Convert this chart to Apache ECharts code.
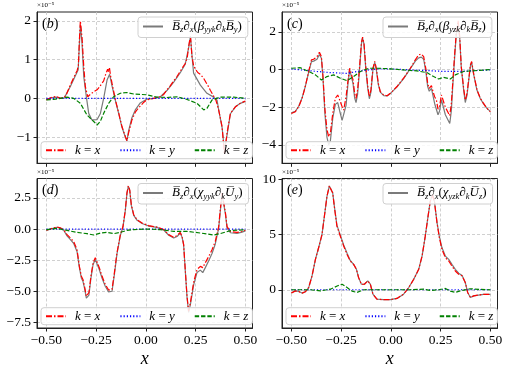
<!DOCTYPE html>
<html>
<head>
<meta charset="utf-8">
<script src="https://cdn.jsdelivr.net/npm/echarts@6/dist/echarts.min.js"></script>
<style>
  html, body { margin: 0; padding: 0; background: #fff; }
  #main { width: 507px; height: 369px; }
</style>
</head>
<body>
<div id="main"></div>
<script>
// ---- data (values are in units of 1e-5), [x, value] ----
var xTicks = [-0.5, -0.25, 0, 0.25, 0.5];
var yTicksB = [-1, 0, 1, 2];
var yTicksC = [-4, -2, 0, 2];
var yTicksD = [-7.5, -5, -2.5, 0, 2.5];
var yTicksE = [0, 5, 10];

// (b)
var bTotal = [[-0.5,-0.03],[-0.47,0.02],[-0.45,0.03],[-0.43,0],[-0.41,0.01],[-0.4,0.06],[-0.38,0.3],[-0.36,0.52],[-0.34,0.74],[-0.334,1.4],[-0.329,1.9],[-0.321,1.45],[-0.312,0.56],[-0.299,0.04],[-0.287,-0.39],[-0.271,-0.56],[-0.245,-0.55],[-0.229,-0.4],[-0.212,0],[-0.195,0.47],[-0.182,0.62],[-0.17,0.32],[-0.153,-0.06],[-0.136,-0.4],[-0.12,-0.75],[-0.103,-1.0],[-0.095,-1.1],[-0.087,-0.85],[-0.07,-0.5],[-0.053,-0.3],[-0.028,-0.12],[0.006,-0.02],[0.039,0],[0.073,0.04],[0.106,0.2],[0.14,0.42],[0.173,0.66],[0.198,0.88],[0.215,1.3],[0.224,1.6],[0.232,1.1],[0.24,0.65],[0.274,0.34],[0.307,0.13],[0.341,0.03],[0.358,-0.05],[0.366,-0.3],[0.383,-0.75],[0.395,-1.35],[0.408,-0.95],[0.425,-0.4],[0.45,-0.22],[0.475,-0.13],[0.5,-0.08]];
var bKx = [[-0.5,-0.04],[-0.47,0.03],[-0.45,0.05],[-0.43,0],[-0.41,0.02],[-0.4,0.09],[-0.38,0.34],[-0.36,0.56],[-0.345,0.72],[-0.339,0.85],[-0.334,1.5],[-0.329,2.0],[-0.321,1.59],[-0.312,0.82],[-0.304,0.3],[-0.292,0.04],[-0.279,0.1],[-0.262,0.17],[-0.245,0.22],[-0.235,0.28],[-0.229,0.32],[-0.212,0.45],[-0.203,0.6],[-0.198,0.55],[-0.192,0.75],[-0.187,0.68],[-0.183,0.8],[-0.178,0.6],[-0.17,0.39],[-0.153,-0.04],[-0.136,-0.39],[-0.12,-0.73],[-0.103,-0.99],[-0.095,-1.1],[-0.087,-0.9],[-0.07,-0.56],[-0.053,-0.36],[-0.04,-0.27],[-0.028,-0.2],[-0.01,-0.1],[0.006,-0.04],[0.039,0],[0.073,0.04],[0.09,0.1],[0.106,0.22],[0.12,0.3],[0.14,0.45],[0.155,0.55],[0.173,0.7],[0.185,0.8],[0.198,0.9],[0.208,1.05],[0.215,1.33],[0.224,1.62],[0.232,1.07],[0.24,0.85],[0.249,0.75],[0.262,0.66],[0.274,0.62],[0.29,0.52],[0.299,0.47],[0.315,0.3],[0.324,0.21],[0.34,0.06],[0.349,0],[0.358,-0.15],[0.366,-0.3],[0.383,-0.73],[0.395,-1.45],[0.408,-0.9],[0.425,-0.39],[0.45,-0.22],[0.475,-0.13],[0.5,-0.07]];
var bKy = [[-0.5,0],[-0.4,0],[-0.3,0],[-0.2,0],[-0.1,0],[0,0],[0.1,0],[0.2,0],[0.3,0],[0.4,0],[0.5,0]];
var bKz = [[-0.5,-0.04],[-0.463,-0.03],[-0.396,0.03],[-0.363,0],[-0.329,-0.13],[-0.296,-0.43],[-0.262,-0.6],[-0.245,-0.69],[-0.229,-0.6],[-0.212,-0.39],[-0.187,-0.13],[-0.162,0.04],[-0.128,0.13],[-0.095,0.15],[-0.061,0.11],[0.006,0.09],[0.056,0.03],[0.106,0.02],[0.157,0.04],[0.207,-0.03],[0.257,-0.13],[0.291,-0.3],[0.307,-0.26],[0.333,-0.04],[0.374,0.03],[0.441,0.03],[0.5,0]];

// (c)
var cTotal = [[-0.5,-2.3],[-0.48,-2.22],[-0.463,-1.95],[-0.446,-1.5],[-0.43,-0.9],[-0.413,-0.15],[-0.399,0.42],[-0.388,0.45],[-0.379,0.4],[-0.371,0.55],[-0.359,0.8],[-0.349,0.6],[-0.341,-0.5],[-0.331,-2.4],[-0.321,-3.6],[-0.312,-4.0],[-0.304,-3.8],[-0.292,-2.6],[-0.279,-1.85],[-0.267,-1.75],[-0.257,-2.2],[-0.245,-2.7],[-0.237,-2.75],[-0.225,-1.9],[-0.215,-0.7],[-0.207,0],[-0.198,-0.05],[-0.19,-0.75],[-0.182,-1.5],[-0.175,-1.75],[-0.167,-1.3],[-0.157,0.05],[-0.148,1.35],[-0.142,1.68],[-0.135,1.35],[-0.126,0.05],[-0.116,-1.0],[-0.108,-1.55],[-0.1,-1.2],[-0.09,0],[-0.081,0.38],[-0.073,0],[-0.063,-0.8],[-0.053,-1.2],[-0.036,-1.38],[-0.019,-1.4],[-0.003,-1.28],[0.031,-0.92],[0.064,-0.48],[0.098,0.05],[0.123,0.45],[0.14,0.62],[0.153,0.66],[0.165,0.55],[0.177,-0.2],[0.185,-0.9],[0.193,-1.15],[0.204,-1.0],[0.212,-1.4],[0.22,-1.8],[0.229,-1.9],[0.237,-2.4],[0.245,-2.2],[0.254,-1.6],[0.262,-1.7],[0.274,-2.4],[0.284,-2.5],[0.296,-2.86],[0.304,-2.2],[0.311,-0.9],[0.321,0.7],[0.329,1.9],[0.338,2.4],[0.346,1.7],[0.354,0.1],[0.366,-1.1],[0.374,-1.75],[0.383,-1.35],[0.391,-0.6],[0.4,0.2],[0.406,0.38],[0.416,-0.25],[0.433,-1.1],[0.45,-1.55],[0.466,-1.82],[0.483,-2.06],[0.5,-2.22]];
var cKx = [[-0.5,-2.33],[-0.48,-2.24],[-0.463,-1.97],[-0.446,-1.53],[-0.43,-0.9],[-0.413,-0.1],[-0.399,0.52],[-0.388,0.55],[-0.379,0.5],[-0.371,0.69],[-0.359,0.92],[-0.349,0.69],[-0.341,-0.37],[-0.331,-2.15],[-0.321,-3.2],[-0.312,-3.57],[-0.304,-3.4],[-0.292,-2.33],[-0.279,-1.53],[-0.267,-1.35],[-0.257,-1.62],[-0.245,-1.97],[-0.237,-2.15],[-0.225,-1.44],[-0.215,-0.55],[-0.207,0.07],[-0.198,0.07],[-0.19,-0.55],[-0.182,-1.26],[-0.175,-1.53],[-0.167,-1.08],[-0.157,0.16],[-0.148,1.4],[-0.142,1.72],[-0.135,1.4],[-0.126,0.16],[-0.116,-0.9],[-0.108,-1.44],[-0.1,-1.08],[-0.09,0.07],[-0.081,0.43],[-0.073,0.07],[-0.063,-0.73],[-0.053,-1.17],[-0.036,-1.35],[-0.019,-1.39],[-0.003,-1.26],[0.031,-0.9],[0.064,-0.46],[0.098,0.07],[0.123,0.52],[0.14,0.78],[0.153,0.83],[0.165,0.69],[0.177,-0.02],[0.185,-0.73],[0.193,-1.0],[0.204,-0.85],[0.212,-1.17],[0.22,-1.44],[0.229,-1.62],[0.237,-2.1],[0.245,-1.95],[0.254,-1.35],[0.262,-1.4],[0.274,-2.0],[0.284,-2.1],[0.296,-2.45],[0.304,-1.8],[0.311,-0.73],[0.321,0.87],[0.329,1.94],[0.338,2.6],[0.346,1.76],[0.354,0.16],[0.366,-1.0],[0.374,-1.62],[0.383,-1.26],[0.391,-0.55],[0.4,0.25],[0.406,0.43],[0.416,-0.2],[0.433,-1.08],[0.45,-1.53],[0.466,-1.8],[0.483,-2.06],[0.5,-2.24]];
var cKy = [[-0.5,0.03],[-0.438,-0.03],[-0.371,-0.1],[-0.304,-0.16],[-0.22,-0.2],[-0.153,-0.07],[-0.069,0.03],[0.014,0.03],[0.098,-0.02],[0.181,-0.05],[0.265,-0.1],[0.349,-0.1],[0.433,-0.05],[0.5,-0.02]];
var cKz = [[-0.5,0.07],[-0.455,0.1],[-0.413,-0.1],[-0.379,-0.28],[-0.349,-0.55],[-0.321,-0.37],[-0.287,-0.28],[-0.254,-0.46],[-0.22,-0.59],[-0.187,-0.37],[-0.153,-0.1],[-0.111,0.07],[-0.069,0.07],[-0.003,0.04],[0.064,-0.02],[0.131,-0.07],[0.181,-0.16],[0.215,-0.37],[0.24,-0.5],[0.265,-0.41],[0.299,-0.5],[0.324,-0.28],[0.366,-0.1],[0.433,-0.05],[0.5,0]];

// (d)
var dTotal = [[-0.5,-0.12],[-0.48,-0.02],[-0.463,0.08],[-0.446,0.14],[-0.43,0.07],[-0.413,-0.1],[-0.396,-0.55],[-0.379,-0.85],[-0.363,-1.15],[-0.346,-1.8],[-0.334,-3.1],[-0.324,-3.95],[-0.316,-4.2],[-0.307,-4.85],[-0.299,-5.55],[-0.292,-5.7],[-0.286,-5.3],[-0.276,-3.95],[-0.265,-2.85],[-0.254,-2.45],[-0.245,-2.6],[-0.234,-3.25],[-0.22,-3.95],[-0.204,-4.6],[-0.187,-5.05],[-0.178,-5.2],[-0.17,-5.0],[-0.158,-3.65],[-0.145,-2.0],[-0.128,-0.5],[-0.115,0.15],[-0.103,1.5],[-0.095,2.85],[-0.088,3.42],[-0.081,3.1],[-0.073,1.9],[-0.061,1.1],[-0.044,0.7],[-0.019,0.44],[0.014,0.24],[0.056,0.13],[0.09,-0.08],[0.115,-0.5],[0.14,-0.72],[0.157,-0.6],[0.173,-0.32],[0.182,-0.65],[0.19,-1.3],[0.198,-3.3],[0.207,-5.5],[0.215,-6.7],[0.224,-6.05],[0.232,-5.3],[0.24,-4.5],[0.257,-3.5],[0.274,-3.3],[0.286,-3.5],[0.299,-3.1],[0.316,-2.55],[0.333,-1.95],[0.349,-1.2],[0.366,0.05],[0.374,1.4],[0.383,2.8],[0.391,2.65],[0.4,1.2],[0.408,0.1],[0.425,-0.3],[0.458,-0.35],[0.483,-0.25],[0.5,-0.15]];
var dKx = [[-0.5,-0.1],[-0.48,0],[-0.463,0.1],[-0.446,0.16],[-0.43,0.1],[-0.413,-0.05],[-0.396,-0.45],[-0.379,-0.72],[-0.363,-1.0],[-0.346,-1.65],[-0.334,-3.0],[-0.324,-3.8],[-0.316,-4.05],[-0.307,-4.7],[-0.299,-5.4],[-0.292,-5.5],[-0.286,-5.1],[-0.276,-3.8],[-0.265,-2.7],[-0.254,-2.3],[-0.245,-2.45],[-0.234,-3.1],[-0.22,-3.8],[-0.204,-4.45],[-0.187,-4.9],[-0.178,-5.05],[-0.17,-4.85],[-0.158,-3.5],[-0.145,-1.9],[-0.128,-0.45],[-0.115,0.2],[-0.103,1.55],[-0.095,2.9],[-0.088,3.47],[-0.081,3.15],[-0.073,1.95],[-0.061,1.15],[-0.044,0.75],[-0.019,0.48],[0.014,0.27],[0.056,0.16],[0.09,-0.05],[0.115,-0.45],[0.14,-0.67],[0.157,-0.53],[0.173,-0.27],[0.182,-0.6],[0.19,-1.25],[0.198,-3.25],[0.207,-5.4],[0.215,-6.6],[0.224,-5.9],[0.232,-5.1],[0.24,-4.3],[0.257,-3.25],[0.274,-3.0],[0.286,-3.1],[0.299,-2.7],[0.316,-2.2],[0.333,-1.65],[0.349,-1.0],[0.366,0.2],[0.374,1.55],[0.383,2.9],[0.391,2.75],[0.4,1.3],[0.408,0.2],[0.425,-0.2],[0.458,-0.27],[0.483,-0.2],[0.5,-0.1]];
var dKy = [[-0.5,0],[-0.4,0],[-0.3,0],[-0.2,0],[-0.1,0],[0,0],[0.1,0],[0.2,0],[0.3,0],[0.4,0],[0.5,0]];
var dKz = [[-0.5,-0.05],[-0.446,0.05],[-0.396,-0.11],[-0.346,-0.27],[-0.296,-0.37],[-0.262,-0.48],[-0.229,-0.32],[-0.195,-0.27],[-0.162,-0.37],[-0.128,-0.27],[-0.095,-0.11],[-0.061,-0.05],[0.006,0],[0.073,-0.05],[0.14,-0.19],[0.207,-0.19],[0.274,-0.32],[0.341,-0.48],[0.374,-0.37],[0.425,-0.13],[0.5,-0.05]];

// (e)
var eTotal = [[-0.5,-0.3],[-0.48,-0.1],[-0.463,-0.15],[-0.446,-0.3],[-0.43,-0.18],[-0.413,0.2],[-0.396,1.26],[-0.379,2.75],[-0.363,3.8],[-0.346,5.0],[-0.334,6.65],[-0.321,8.45],[-0.309,9.4],[-0.301,9.5],[-0.292,8.75],[-0.282,7.3],[-0.271,5.85],[-0.254,4.95],[-0.237,4.05],[-0.22,3.3],[-0.204,2.65],[-0.187,2.3],[-0.173,1.85],[-0.162,1.1],[-0.148,0.5],[-0.133,0.5],[-0.116,0.8],[-0.103,0.5],[-0.09,-0.4],[-0.07,-0.85],[-0.036,-0.9],[-0.003,-0.9],[0.031,-0.78],[0.064,-0.4],[0.09,0.2],[0.115,0.95],[0.14,1.85],[0.157,3.05],[0.173,4.85],[0.187,6.65],[0.198,8.0],[0.209,8.6],[0.219,8.0],[0.232,6.1],[0.244,4.8],[0.257,3.8],[0.274,3.05],[0.291,2.75],[0.307,2.3],[0.324,1.85],[0.341,1.5],[0.358,1.3],[0.374,0.66],[0.386,-0.24],[0.4,-0.7],[0.416,-0.55],[0.441,-0.48],[0.466,-0.42],[0.5,-0.42]];
var eKx = [[-0.5,-0.3],[-0.48,-0.1],[-0.463,-0.15],[-0.446,-0.3],[-0.43,-0.18],[-0.413,0.2],[-0.396,1.26],[-0.379,2.75],[-0.363,3.8],[-0.346,5.0],[-0.334,6.65],[-0.321,8.45],[-0.309,9.4],[-0.301,9.5],[-0.292,8.75],[-0.282,7.25],[-0.271,5.75],[-0.254,4.85],[-0.237,3.95],[-0.22,3.2],[-0.204,2.6],[-0.187,2.3],[-0.173,1.85],[-0.162,1.1],[-0.148,0.5],[-0.133,0.5],[-0.116,0.8],[-0.103,0.5],[-0.09,-0.4],[-0.07,-0.85],[-0.036,-0.9],[-0.003,-0.9],[0.031,-0.78],[0.064,-0.4],[0.09,0.2],[0.115,0.95],[0.14,1.85],[0.157,3.05],[0.173,4.85],[0.187,6.65],[0.198,8.0],[0.209,8.6],[0.219,8.0],[0.232,6.05],[0.244,4.7],[0.257,3.65],[0.274,2.9],[0.291,2.6],[0.307,2.15],[0.324,1.7],[0.341,1.4],[0.358,1.26],[0.374,0.66],[0.386,-0.24],[0.4,-0.7],[0.416,-0.55],[0.441,-0.48],[0.466,-0.42],[0.5,-0.42]];
var eKy = [[-0.5,0],[-0.4,0],[-0.3,0],[-0.2,0],[-0.1,0],[0,0],[0.1,0],[0.2,0],[0.3,0],[0.4,0],[0.5,0]];
var eKz = [[-0.5,0],[-0.405,0],[-0.354,-0.1],[-0.304,0.05],[-0.267,0.36],[-0.245,0.5],[-0.22,0.2],[-0.195,-0.12],[-0.17,-0.24],[-0.137,0],[-0.036,0],[0.098,0],[0.165,0.06],[0.198,-0.06],[0.24,0],[0.274,0.12],[0.299,-0.12],[0.324,-0.24],[0.349,-0.1],[0.4,0.09],[0.45,0.03],[0.5,0]];

var serif = '"Liberation Serif", "DejaVu Serif", serif';

// one entry per panel, layout in px
var panels = [
  { tag: 'b', left: 37, top: 12, h: 151.3, ymin: -1.68, ymax: 2.23, yTicks: yTicksB, dec: 0,
    total: bTotal, kx: bKx, ky: bKy, kz: bKz, coef: '\u03b2', idx: 'yyk', fld: 'B', comp: 'y' },
  { tag: 'c', left: 282, top: 12, h: 151.3, ymin: -4.98, ymax: 3.06, yTicks: yTicksC, dec: 0,
    total: cTotal, kx: cKx, ky: cKy, kz: cKz, coef: '\u03b2', idx: 'yzk', fld: 'B', comp: 'z' },
  { tag: 'd', left: 37, top: 178.5, h: 150.8, ymin: -7.95, ymax: 4.06, yTicks: yTicksD, dec: 1,
    total: dTotal, kx: dKx, ky: dKy, kz: dKz, coef: '\u03c7', idx: 'yyk', fld: 'U', comp: 'y' },
  { tag: 'e', left: 282, top: 178.5, h: 150.8, ymin: -3.46, ymax: 10.07, yTicks: yTicksE, dec: 0,
    total: eTotal, kx: eKx, ky: eKy, kz: eKz, coef: '\u03c7', idx: 'yzk', fld: 'U', comp: 'z' }
];
var W = 215.5;

function minus(s) { return String(s).replace('-', '\u2212'); }

function mathLabel(p) {
  return '{m|B\u0305}{s|z}{m|\u2202}{s|x}{u|(}{m|' + p.coef + '}{s|' + p.idx + '}{m|\u2202}{s|k}{m|' +
    p.fld + '\u0305}{s|' + p.comp + '}{u|)}';
}

var richMath = {
  m: { fontFamily: serif, fontStyle: 'italic', fontSize: 13, lineHeight: 16, color: '#000' },
  u: { fontFamily: serif, fontSize: 13, lineHeight: 16, color: '#000' },
  s: { fontFamily: serif, fontStyle: 'italic', fontSize: 8.5, lineHeight: 8, verticalAlign: 'bottom', color: '#000' }
};

var grid = [], xAxis = [], yAxis = [], series = [], legend = [], title = [];

panels.forEach(function (p, i) {
  var bottomRow = i >= 2;
  grid.push({ left: p.left, top: p.top, width: W, height: p.h, show: true,
    borderColor: '#222', borderWidth: 1, backgroundColor: 'transparent' });

  xAxis.push({
    type: 'value', gridIndex: i, min: -0.547, max: 0.536,
    name: bottomRow ? 'x' : '', nameLocation: 'middle', nameGap: 22,
    nameTextStyle: { fontFamily: serif, fontStyle: 'italic', fontSize: 18, color: '#000' },
    axisLine: { show: true, onZero: false, lineStyle: { color: '#222', width: 1 } },
    axisTick: { show: true, length: 3.5, customValues: xTicks, lineStyle: { color: '#222' } },
    axisLabel: { show: bottomRow, customValues: xTicks, margin: 5, fontFamily: serif, fontSize: 13.5, color: '#000',
      formatter: function (v) { return minus(v.toFixed(2)); } },
    splitLine: { show: true, lineStyle: { color: '#c4c4c4', width: 0.8, type: [3, 2] } }
  });

  yAxis.push({
    type: 'value', gridIndex: i, min: p.ymin, max: p.ymax,
    axisLine: { show: true, onZero: false, lineStyle: { color: '#222', width: 1 } },
    axisTick: { show: true, length: 3.5, customValues: p.yTicks, lineStyle: { color: '#222' } },
    axisLabel: { customValues: p.yTicks, margin: 6, fontFamily: serif, fontSize: 13.5, color: '#000',
      formatter: function (v) { return minus(v.toFixed(p.dec)); } },
    splitLine: { show: true, lineStyle: { color: '#c4c4c4', width: 0.8, type: [3, 2] } }
  });

  var common = { type: 'line', xAxisIndex: i, yAxisIndex: i, symbol: 'none', showSymbol: false, silent: true };
  series.push(Object.assign({}, common, { name: 'total_' + p.tag, data: p.total, z: 2,
    lineStyle: { color: '#7a7a7a', width: 1.2 }, itemStyle: { color: '#7a7a7a' } }));
  series.push(Object.assign({}, common, { name: 'k = x', data: p.kx, z: 3,
    lineStyle: { color: '#ff0000', width: 1.2, type: [6, 2, 1.5, 2] }, itemStyle: { color: '#ff0000' } }));
  series.push(Object.assign({}, common, { name: 'k = y', data: p.ky, z: 4,
    lineStyle: { color: '#0000ff', width: 1.2, type: [1.2, 2] }, itemStyle: { color: '#0000ff' } }));
  series.push(Object.assign({}, common, { name: 'k = z', data: p.kz, z: 5,
    lineStyle: { color: '#008000', width: 1.2, type: [4.4, 1.9] }, itemStyle: { color: '#008000' } }));

  // top right legend with the total term (marker hidden, only the line sample)
  legend.push({
    data: ['total_' + p.tag], left: p.left + 101, top: p.top + 5,
    padding: [3, 6, 3, 4], itemWidth: 20, itemHeight: 10,
    itemStyle: { opacity: 0 },
    backgroundColor: 'rgba(255,255,255,0.85)', borderColor: '#d0d0d0', borderWidth: 1, borderRadius: 3,
    formatter: function () { return mathLabel(p); },
    textStyle: { padding: [0, 0, 0, 4], rich: richMath }
  });
  // bottom legend with the three k contributions
  legend.push({
    data: ['k = x', 'k = y', 'k = z'], left: p.left + 4, top: p.top + p.h - 21.6,
    padding: [2, 4, 2, 4], itemWidth: 20, itemHeight: 10, itemGap: 19,
    itemStyle: { opacity: 0 },
    backgroundColor: 'rgba(255,255,255,0.85)', borderColor: '#d0d0d0', borderWidth: 1, borderRadius: 3,
    formatter: function (n) { return '{i|k} = {i|' + n.slice(-1) + '}'; },
    textStyle: { fontFamily: serif, fontSize: 13, lineHeight: 13, color: '#000', padding: [0, 0, 0, 4],
      rich: { i: { fontFamily: serif, fontStyle: 'italic', fontSize: 13, lineHeight: 13, color: '#000' } } }
  });

  // panel label and exponent
  title.push({ text: '({i|' + p.tag + '})', left: p.left + 5, top: p.top + 5, padding: 0,
    textStyle: { fontFamily: serif, fontSize: 14, fontWeight: 'normal', color: '#000',
      rich: { i: { fontFamily: serif, fontStyle: 'italic', fontSize: 14, color: '#000' } } } });
  title.push({ text: '\u00d710\u207b\u2075', left: p.left, top: p.top - 10, padding: 0,
    textStyle: { fontFamily: serif, fontSize: 7, fontWeight: 'normal', color: '#000' } });
});

var myChart = echarts.init(document.getElementById('main'), null, { renderer: 'canvas' });
myChart.setOption({
  animation: false,
  backgroundColor: '#fff',
  title: title,
  grid: grid,
  xAxis: xAxis,
  yAxis: yAxis,
  legend: legend,
  series: series
});
</script>
</body>
</html>
